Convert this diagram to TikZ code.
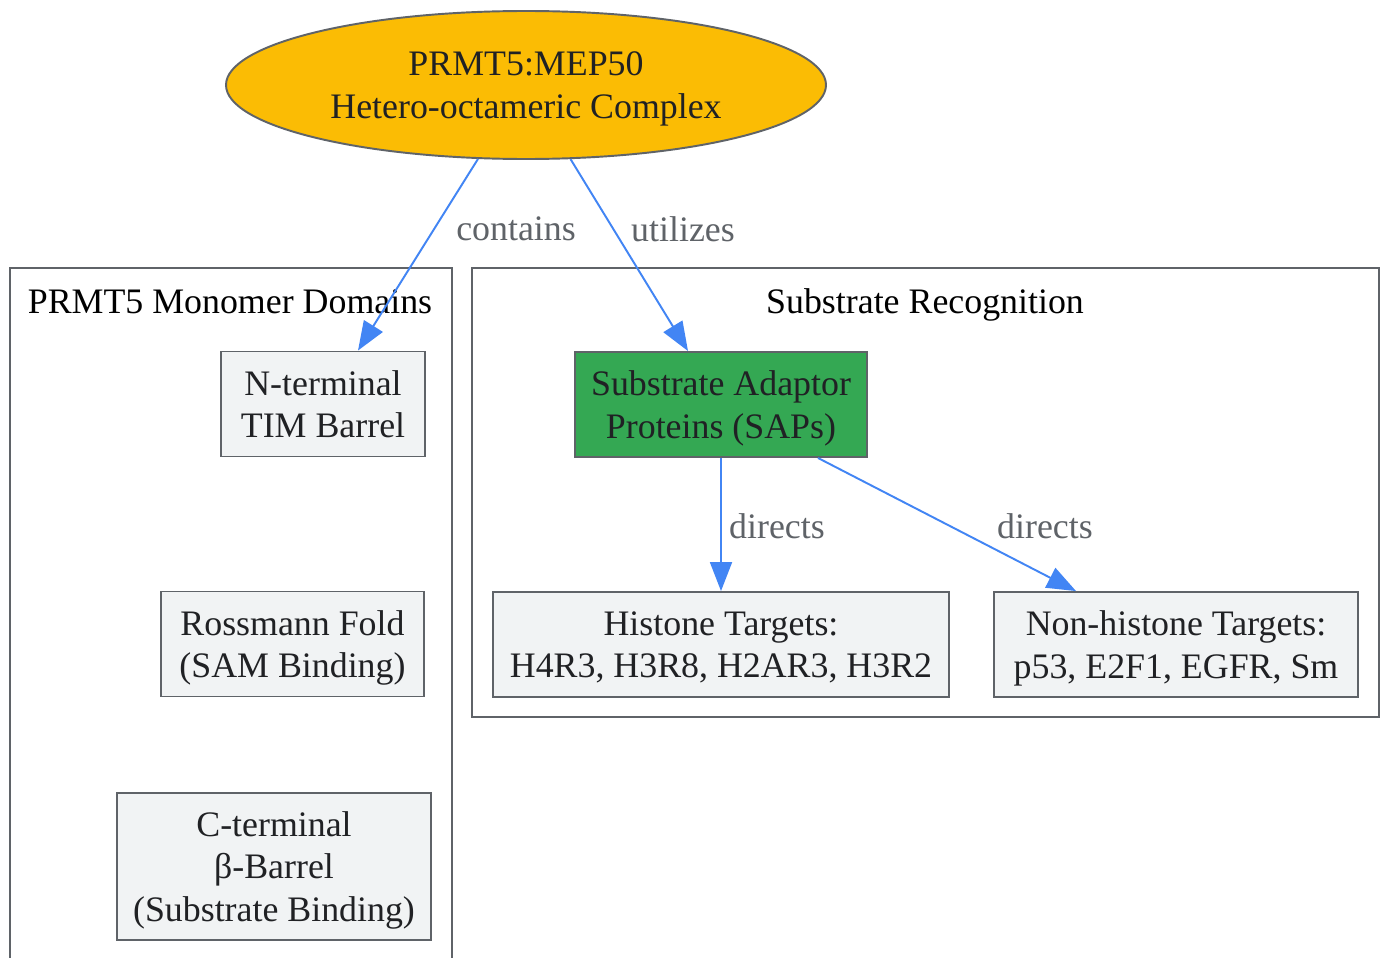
\documentclass[tikz,border=0pt]{standalone}
\usepackage{fontspec}
\setmainfont{Liberation Serif}
\usetikzlibrary{shapes.geometric,arrows.meta,calc}
\definecolor{edgeblue}{HTML}{4285F4}
\definecolor{bordergray}{HTML}{5F6368}
\definecolor{boxfill}{HTML}{F1F3F4}
\definecolor{complexfill}{HTML}{FBBC04}
\definecolor{sapfill}{HTML}{34A853}
\definecolor{textdark}{HTML}{202124}
\begin{document}
\begin{tikzpicture}[
    font = \fontsize{20.4}{24}\selectfont,
    struts/.style = {execute at begin node = {\rule{0pt}{20pt}}, execute at end node = {\rule[-6.2pt]{0pt}{0pt}}},
    multiline/.style = {align = center, text depth = -.8pt},
    domainbox/.style = {multiline, draw = bordergray, line width = 1.1pt, fill = boxfill, text = textdark, inner sep = 0pt, minimum height = 2.1cm},
    cluster/.style = {draw = bordergray, line width = 1.1pt},
    link/.style = {draw = edgeblue, line width = 1.1pt, -{Triangle[length = .58cm, width = .44cm]}},
    linklabel/.style = {text = bordergray}
  ]
      \useasboundingbox [fill = white] (0,0) rectangle (27.66,-19.14);
      \draw [cluster] (.2,-19.4) -- (.2,-5.36) -- (9.04,-5.36) -- (9.04,-19.4);
      \draw [cluster] (9.44,-5.36) rectangle (27.58,-14.34);
      \node [struts] (domlabel) at (4.6,-6.02) {PRMT5 Monomer Domains};
      \node [struts] (reclabel) at (18.5,-6.02) {Substrate Recognition};
      \node [multiline, ellipse, draw = bordergray, line width = 1.1pt, fill = complexfill, text = textdark, minimum width = 12cm, minimum height = 2.96cm, inner sep = 0pt] (top) at (10.52,-1.7) {PRMT5:MEP50\\Hetero-octameric Complex};
      \node [domainbox, minimum width = 4.08cm] (nterm) at (6.46,-8.08) {N-terminal\\TIM Barrel};
      \node [domainbox, minimum width = 5.26cm] (ross) at (5.85,-12.88) {Rossmann Fold\\(SAM Binding)};
      \node [domainbox, minimum width = 6.28cm, minimum height = 2.94cm] (cterm) at (5.48,-17.33) {C-terminal\\β-Barrel\\(Substrate Binding)};
      \node [domainbox, minimum width = 5.84cm, fill = sapfill] (saps) at (14.42,-8.09) {Substrate Adaptor\\Proteins (SAPs)};
      \node [domainbox, minimum width = 9.12cm] (hist) at (14.42,-12.89) {Histone Targets:\\H4R3, H3R8, H2AR3, H3R2};
      \node [domainbox, minimum width = 7.28cm] (nonhist) at (23.52,-12.89) {Non-histone Targets:\\p53, E2F1, EGFR, Sm};
      \draw [link] (top.237.8) -- ($(nterm.north) + (.7,0)$);
      \draw [link] (top.301) -- ($(saps.north) + (-.66,0)$);
      \draw [link] (saps.south) -- (hist.north);
      \draw [link] ($(saps.south) + (1.94,0)$) -- ($(nonhist.north) + (-2,0)$);
      \node [linklabel] (containslabel) at (10.32,-4.58) {contains};
      \node [linklabel] (utilizeslabel) at (13.66,-4.58) {utilizes};
      \node [linklabel] (directslabel) at (15.54,-10.52) {directs};
      \node [linklabel] (directslabelb) at (20.9,-10.52) {directs};
\end{tikzpicture}
\end{document}
